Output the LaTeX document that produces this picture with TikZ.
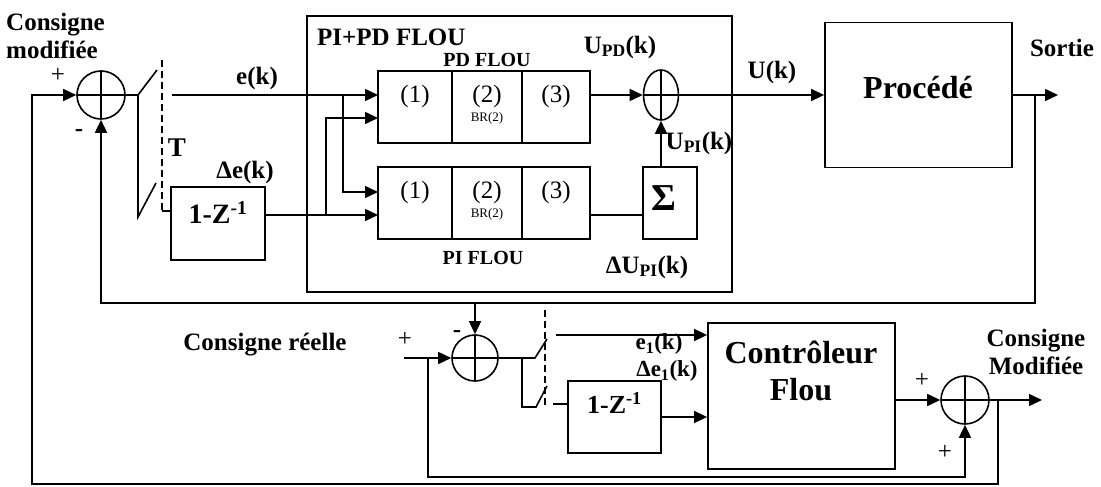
\documentclass[tikz,border=0pt]{standalone}
\usepackage{fontspec}
\setmainfont{Liberation Serif}
\usetikzlibrary{arrows.meta,positioning,calc,shapes.geometric}

\tikzset{
  wire/.style={line width=1.6pt},
  fleche/.style={wire,-{Triangle[length=13pt,width=12pt]}},
  bloc/.style={draw,line width=1.8pt,inner sep=0pt},
  cellule/.style={bloc,minimum height=72pt,outer sep=0pt},
  somme/.style={draw,line width=1.6pt,circle,minimum size=48pt,inner sep=0pt,
    path picture={\draw[line width=1.6pt] (path picture bounding box.north) -- (path picture bounding box.south)
      (path picture bounding box.west) -- (path picture bounding box.east);}},
  etiq/.style={inner sep=0pt,font=\fontsize{25}{28}\selectfont\bfseries},
  petit/.style={inner sep=0pt,font=\fontsize{20}{22}\selectfont\bfseries},
  grand/.style={inner sep=0pt,font=\fontsize{32}{37}\selectfont\bfseries},
  signe/.style={inner sep=0pt,font=\fontsize{25}{27}\selectfont},
  interr/.style={line width=1.4pt,dash pattern=on 7pt off 4pt}
}

\begin{document}
\begin{tikzpicture}[x=1pt,y=-1pt]
\useasboundingbox (0,0) rectangle (1101,487);

% Boucle principale
\node[somme] (s1) at (101,95) {};
\node[etiq,align=left,anchor=west] (cm) at (6,36) {Consigne\\modifiée};
\node[signe] at (58,75) {+};
\node[etiq] at (79,133) {-};

% Echantillonneur T
\coordinate (k1) at (138,95);
\coordinate (k1h) at (157,70);
\coordinate (k1b) at (138,217);
\coordinate (k1bh) at (156,183);
\coordinate (ek) at (172,95);
\coordinate (t1) at (162,211);
\draw[wire] (s1.east) -- (k1) -- (k1h);
\draw[wire] (k1) -- (k1b) -- (k1bh);
\draw[interr] (162,60) -- (162,212);
\node[etiq,font=\fontsize{27}{28}\selectfont\bfseries] (T) at (177,148) {T};
\node[etiq] at (257,78) {e(k)};
\node[etiq] at (245,172) {Δe(k)};

\node[bloc,minimum width=94pt,minimum height=73pt] (dz1) at (218,223.5) {};
\node[font=\fontsize{28}{30}\selectfont\bfseries,inner sep=0pt] at ([yshift=11pt]dz1.center) {1-Z\textsuperscript{-1}};
\draw[wire] (t1) -- (t1 -| dz1.west);

% PI+PD flou
\node[bloc,minimum width=425pt,minimum height=276pt] (pipd) at (519.5,154) {};
\node[etiq,anchor=west] at (317,37) {PI+PD FLOU};
\foreach \row/\y in {pd/107,pi/203} {
  \foreach \n/\x/\w in {1/415/74,2/487/70,3/556/68} {
    \node[cellule,minimum width=\w pt] (\row\n) at (\x,\y) {};
    \node[signe] at (\x,\y-11) {(\n)};
  }
  \node[inner sep=0pt,font=\fontsize{13}{14}\selectfont] at (487,\y+11) {BR(2)};
}
\node[petit] at (487,60) {PD FLOU};
\node[petit] at (483,258) {PI FLOU};

\coordinate (b1) at (343,95);
\coordinate (b2) at (326,215);
\coordinate (pd1b) at (378,118);
\coordinate (pi1a) at (378,192);
\draw[fleche] (ek) -- (ek -| pd1.west);
\draw[fleche] (b1) |- (pi1a);
\draw[fleche] (dz1.east |- b2) -- (b2 -| pi1.west);
\draw[fleche] (b2) |- (pd1b);

\node[draw,ellipse,line width=1.6pt,minimum width=35pt,minimum height=50pt,inner sep=0pt,
  path picture={\draw[line width=1.6pt] (path picture bounding box.north) -- (path picture bounding box.south)
    (path picture bounding box.west) -- (path picture bounding box.east);}] (s2) at (661,95) {};
\node[bloc,minimum width=54pt,minimum height=72pt] (sig) at (670,203) {};
\node[inner sep=0pt,font=\fontsize{38}{40}\selectfont\bfseries] at (664,198) {Σ};
\draw[fleche] (pd3.east |- s2) -- (s2.west);
\draw[wire] (pi3.east |- b2) -- (sig.west |- b2);
\draw[fleche] (sig.north -| s2) -- (s2.south);
\node[etiq] at (620,47) {U\textsubscript{PD}(k)};
\node[etiq] at (699,143) {U\textsubscript{PI}(k)};
\node[etiq] at (647,267) {ΔU\textsubscript{PI}(k)};

% Procede
\node[bloc,minimum width=187pt,minimum height=145pt] (proc) at (918.5,95) {};
\node[grand] at (918,88) {Procédé};
\node[etiq] at (772,72) {U(k)};
\node[etiq] at (1062,48) {Sortie};
\coordinate (sortie) at (1058,95);
\draw[fleche] (s2.east) -- (proc.west);
\draw[fleche] (proc.east) -- (sortie);

% Retour
\coordinate (b3) at (1035,95);
\coordinate (b4) at (1035,303);
\coordinate (b5) at (475,303);
\draw[fleche] (b3) -- (b4) -| (s1.south);

% Boucle de consigne
\node[somme,minimum size=46pt] (s3) at (475,358) {};
\node[etiq] at (265,345) {Consigne réelle};
\node[signe] at (405,339) {+};
\node[etiq] at (457,334) {-};
\draw[fleche] (b5) -- (s3.north);
\coordinate (cr) at (404,358);
\coordinate (b6) at (428,358);
\coordinate (b7) at (428,477);
\draw[fleche] (cr) -- (s3.west);

\coordinate (k2) at (522,358);
\coordinate (k2a) at (535,358);
\coordinate (k2h) at (547,339);
\coordinate (k2b) at (536,407);
\coordinate (k2bh) at (547,386);
\coordinate (e1) at (556,335);
\coordinate (t2) at (553,404);
\draw[wire] (s3.east) -- (k2a) -- (k2h);
\draw[wire] (k2) |- (k2b) -- (k2bh);
\draw[interr] (545,310) -- (545,408);

\node[bloc,minimum width=93pt,minimum height=72pt] (dz2) at (614.5,417) {};
\node[font=\fontsize{26}{28}\selectfont\bfseries,inner sep=0pt] at ([yshift=14pt]dz2.center) {1-Z\textsuperscript{-1}};
\draw[wire] (t2) -- (t2 -| dz2.west);

\node[bloc,minimum width=187pt,minimum height=146pt] (ctrl) at (801.5,396) {};
\node[grand,align=center] at (801,371) {Contrôleur\\Flou};
\draw[fleche] (e1) -- (e1 -| ctrl.west);
\draw[fleche] (dz2.east) -- (dz2 -| ctrl.west);
\node[etiq,font=\fontsize{23}{25}\selectfont\bfseries] at (659,344) {e\textsubscript{1}(k)};
\node[etiq,font=\fontsize{23}{25}\selectfont\bfseries] at (667,371) {Δe\textsubscript{1}(k)};

\node[somme] (s4) at (965,400) {};
\node[signe] at (922,380) {+};
\node[signe] at (945,452) {+};
\node[etiq,align=center] at (1036,352) {Consigne\\Modifiée};
\coordinate (cmod) at (1042,400);
\coordinate (b8) at (998,400);
\coordinate (b9) at (998,484);
\coordinate (b10) at (32,484);
\draw[fleche] (ctrl.east |- s4) -- (s4.west);
\draw[fleche] (s4.east) -- (cmod);
\draw[fleche] (b6) -- (b7) -| (s4.south);
\draw[fleche] (b8) -- (b9) -- (b10) |- (s1.west);

\end{tikzpicture}
\end{document}
